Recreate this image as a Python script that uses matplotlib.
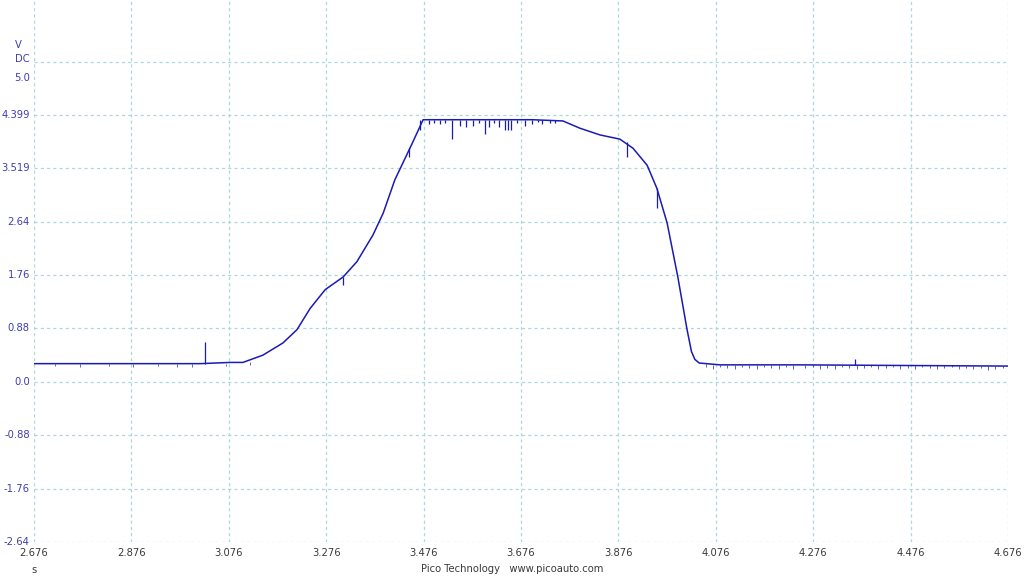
import matplotlib
matplotlib.use("Agg")
import matplotlib.pyplot as plt

# main trace (time in s, volts DC)
trace_t = [2.676, 2.812, 3.017, 3.0785, 3.105, 3.146, 3.187, 3.216, 3.243, 3.274,
           3.311, 3.339, 3.372, 3.393, 3.417, 3.452, 3.475, 3.600, 3.700, 3.762,
           3.797, 3.838, 3.879, 3.906, 3.935, 3.955, 3.976, 3.998, 4.017, 4.026,
           4.033, 4.042, 4.085, 4.249, 4.454, 4.676]
trace_v = [0.30, 0.30, 0.30, 0.32, 0.32, 0.44, 0.64, 0.86, 1.21, 1.52,
           1.73, 1.98, 2.42, 2.78, 3.33, 3.92, 4.32, 4.32, 4.32, 4.30,
           4.18, 4.07, 4.00, 3.85, 3.57, 3.19, 2.62, 1.73, 0.86, 0.50,
           0.37, 0.31, 0.28, 0.28, 0.27, 0.26]

# glitches: (time, level before, level reached)
spike_t = [3.027, 3.311, 3.445, 3.468, 3.488, 3.509, 3.535, 3.550, 3.564, 3.577,
           3.602, 3.610, 3.631, 3.643, 3.650, 3.655, 3.684, 3.699, 3.719, 3.893,
           3.956, 4.362, 3.497, 3.520, 3.590, 3.620, 3.667, 3.710, 3.735, 3.745]
spike_from = [0.30, 1.73, 3.85, 4.32, 4.32, 4.32, 4.32, 4.32, 4.32, 4.32,
              4.32, 4.32, 4.32, 4.32, 4.32, 4.32, 4.32, 4.32, 4.32, 3.95,
              3.19, 0.27, 4.32, 4.32, 4.32, 4.32, 4.32, 4.32, 4.32, 4.31]
spike_to = [0.66, 1.60, 3.70, 4.15, 4.25, 4.25, 4.01, 4.22, 4.20, 4.22,
            4.09, 4.20, 4.20, 4.15, 4.15, 4.15, 4.22, 4.25, 4.25, 3.71,
            2.87, 0.37, 4.27, 4.26, 4.27, 4.26, 4.27, 4.28, 4.27, 4.27]

# small baseline dips
dip_t = [2.72, 2.77, 2.83, 2.88, 2.93, 2.97, 3.00, 3.07, 3.12,
         4.055, 4.07, 4.085, 4.10, 4.115, 4.13, 4.145, 4.16, 4.175, 4.19,
         4.205, 4.22, 4.235, 4.26, 4.275, 4.29, 4.305, 4.32, 4.335, 4.35,
         4.365, 4.38, 4.395, 4.41, 4.425, 4.44, 4.455, 4.47, 4.485, 4.50,
         4.515, 4.53, 4.545, 4.56, 4.575, 4.59, 4.605, 4.62, 4.635, 4.65, 4.665]
dip_base = [0.30, 0.30, 0.30, 0.30, 0.30, 0.30, 0.30, 0.30, 0.33,
            0.29, 0.28, 0.28, 0.28, 0.28, 0.28, 0.28, 0.28, 0.28, 0.28,
            0.28, 0.28, 0.28, 0.28, 0.28, 0.28, 0.27, 0.27, 0.27, 0.27,
            0.27, 0.27, 0.27, 0.27, 0.27, 0.27, 0.27, 0.27, 0.27, 0.27,
            0.27, 0.27, 0.27, 0.27, 0.27, 0.26, 0.26, 0.26, 0.26, 0.26, 0.26]
dip_to = [0.26, 0.25, 0.26, 0.25, 0.26, 0.25, 0.24, 0.26, 0.27,
          0.24, 0.22, 0.24, 0.23, 0.21, 0.24, 0.23, 0.22, 0.24, 0.23,
          0.22, 0.24, 0.22, 0.23, 0.24, 0.22, 0.23, 0.22, 0.24, 0.23,
          0.21, 0.23, 0.24, 0.22, 0.23, 0.24, 0.22, 0.23, 0.22, 0.24,
          0.23, 0.21, 0.23, 0.24, 0.22, 0.23, 0.22, 0.23, 0.20, 0.22, 0.23]

x_ticks = [2.676, 2.876, 3.076, 3.276, 3.476, 3.676, 3.876, 4.076, 4.276, 4.476, 4.676]
y_step = 0.8798
y_grid = [y_step * k for k in range(-3, 7)]
y_ticks = [5.0, 4.399, 3.519, 2.64, 1.76, 0.88, 0.0, -0.88, -1.76, -2.64]
y_labels = ["5.0", "4.399", "3.519", "2.64", "1.76", "0.88", "0.0", "-0.88", "-1.76", "-2.64"]

W, H = 1024, 576
trace_col = "#1a1ab4"
grid_col = "#acd8db"
ylab_col = "#3d3db0"
xlab_col = "#3a3a3a"

fig = plt.figure(figsize=(W / 100, H / 100), dpi=100)
ax = fig.add_axes([34 / W, 34 / H, (1008 - 34) / W, 542 / H])

ax.set_xlim(x_ticks[0], x_ticks[-1])
ax.set_ylim(-3 * y_step, 382 / 60.7)

for g in y_grid:
    ax.axhline(g, color=grid_col, lw=0.9, ls=(0, (2.5, 2.5)), zorder=1)
for xt in x_ticks:
    ax.axvline(xt, color=grid_col, lw=0.9, ls=(0, (2.5, 2.5)), zorder=1)

ax.plot(trace_t, trace_v, color=trace_col, lw=1.1, zorder=3)
ax.vlines(spike_t, spike_from, spike_to, color=trace_col, lw=0.9, zorder=3)
ax.vlines(dip_t, dip_base, dip_to, color=trace_col, lw=0.7, alpha=0.7, zorder=3)

for s in ax.spines.values():
    s.set_visible(False)
ax.set_xticks([])
ax.set_yticks([])

font = "DejaVu Sans"
fs = 7.2
# y labels (right aligned left of plot)
for v, lab in zip(y_ticks, y_labels):
    ax.annotate(lab, xy=(x_ticks[0], v), xytext=(-3, 0), textcoords="offset points",
                ha="right", va="center", fontsize=fs, color=ylab_col, family=font)
# x labels
for xt in x_ticks:
    ax.annotate(f"{xt:.3f}", xy=(xt, -3 * y_step), xytext=(0, -4), textcoords="offset points",
                ha="center", va="top", fontsize=fs, color=xlab_col, family=font)

fig.text(18 / W, 1 - 45 / H, "V", ha="center", va="center", fontsize=fs, color=ylab_col, family=font)
fig.text(22 / W, 1 - 59 / H, "DC", ha="center", va="center", fontsize=fs, color=ylab_col, family=font)
fig.text(34 / W, 1 - 570 / H, "s", ha="center", va="center", fontsize=fs, color=xlab_col, family=font)
fig.text(512 / W, 1 - 569 / H, "Pico Technology   www.picoauto.com", ha="center", va="center",
         fontsize=fs, color=xlab_col, family=font)

fig.savefig("out.png", dpi=100)
